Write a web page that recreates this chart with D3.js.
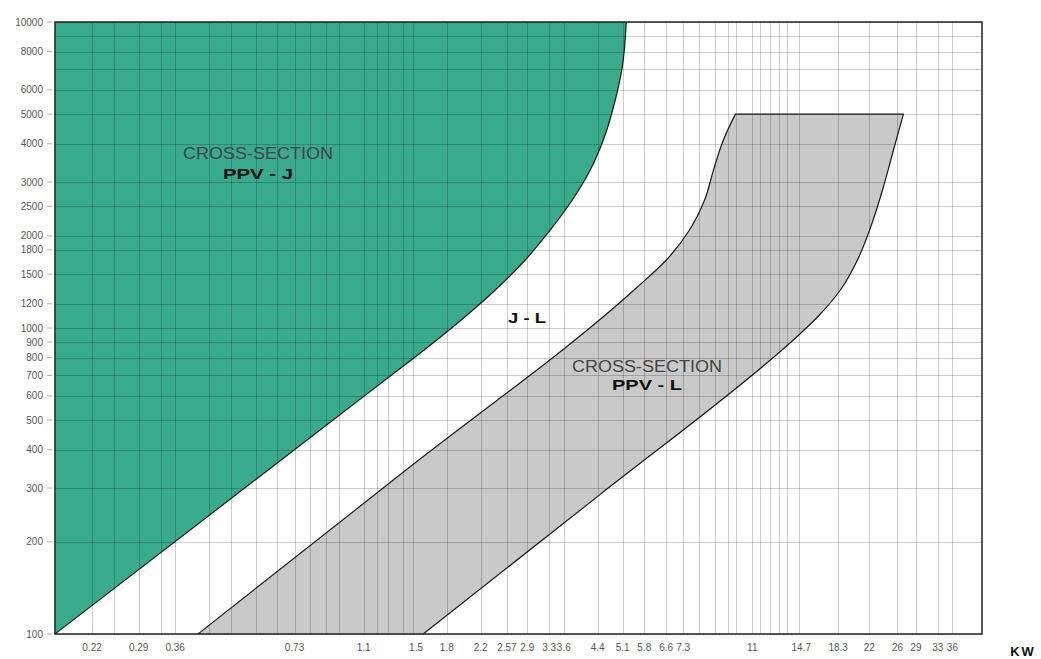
<!DOCTYPE html>
<html>
<head>
<meta charset="utf-8">
<script src="https://cdn.jsdelivr.net/npm/d3@7"></script>
<style>
  body { margin: 0; background: #fff; }
  svg { display: block; font-family: "Liberation Sans", Arial, sans-serif; }
</style>
</head>
<body>
<svg id="chart" width="1041" height="659"></svg>
<script>
// axis domain (kW on x, log scale on y)
const xDomain = [0.1766, 42.9];
const yDomain = [100, 10000];

// tick labels
const xTickLabels = [0.22, 0.29, 0.36, 0.73, 1.1, 1.5, 1.8, 2.2, 2.57, 2.9, 3.3, 3.6, 4.4, 5.1, 5.8, 6.6, 7.3, 11, 14.7, 18.3, 22, 26, 29, 33, 36];
const yTickLabels = [100, 200, 300, 400, 500, 600, 700, 800, 900, 1000, 1200, 1500, 1800, 2000, 2500, 3000, 4000, 5000, 6000, 8000, 10000];

// grid lines
const xGrid = [0.22, 0.25, 0.29, 0.33, 0.36, 0.44, 0.5, 0.58, 0.66, 0.73, 0.8, 0.88, 0.95, 1.1, 1.19, 1.27, 1.39, 1.47, 1.8, 2.2, 2.57, 2.9, 3.3, 3.6, 4.4, 5.1, 5.8, 6.6, 7.3, 8, 8.8, 9.5, 10, 11, 11.5, 12.2, 12.9, 13.5, 14.5, 18.3, 22, 26, 29, 33, 36];
const yGrid = [100, 200, 300, 400, 500, 600, 700, 800, 900, 1000, 1200, 1500, 1800, 2000, 2500, 3000, 4000, 5000, 6000, 7000, 8000, 9000, 10000];

// boundary of the PPV-J region [kW, value], bottom -> top
const ppvJ = [[0.1766, 100], [0.4696, 260], [0.9016, 492], [1.249, 676], [1.574, 847], [1.960, 1062], [2.399, 1331], [2.865, 1668], [3.323, 2091], [3.785, 2620], [4.211, 3283], [4.549, 4115], [4.884, 5560], [5.091, 7127], [5.212, 10000]];

// PPV-L band: left edge (bottom -> top) and right edge (top -> bottom)
const ppvLLeft = [[0.412, 100], [1.366, 332], [5.567, 1361], [6.61, 1668], [7.58, 2091], [8.29, 2620], [8.75, 3300], [9.267, 4115], [9.95, 5000]];
const ppvLRight = [[26.93, 5000], [25.39, 3816], [23.92, 2890], [22.28, 2171], [20.51, 1668], [18.54, 1331], [16.37, 1103], [14.03, 914], [12.24, 786], [4.469, 286], [1.565, 100]];

const svg = d3.select('#chart');
const margin = { top: 22, right: 59, bottom: 25, left: 55 };
const width = +svg.attr('width');
const height = +svg.attr('height');
const innerWidth = width - margin.left - margin.right;
const innerHeight = height - margin.top - margin.bottom;

const xScale = d3.scaleLog().domain(xDomain).range([0, innerWidth]);
const yScale = d3.scaleLog().domain(yDomain).range([innerHeight, 0]);

const g = svg.append('g')
  .attr('transform', `translate(${margin.left},${margin.top})`);

const line = d3.line()
  .x(d => xScale(d[0]))
  .y(d => yScale(d[1]))
  .curve(d3.curveMonotoneY);

// PPV-J filled region (closed along top-left corner)
const jCurve = line(ppvJ);
g.append('path')
  .attr('d', jCurve + `L${xScale(xDomain[0])},${yScale(yDomain[1])}Z`)
  .attr('fill', '#3aaa8c');

// PPV-L band
const lOutline = line(ppvLLeft) + line(ppvLRight).replace(/^M/, 'L');
g.append('path')
  .attr('d', lOutline + 'Z')
  .attr('fill', '#c9c9c9');

// grid on top of fills so it darkens inside them
const gridG = g.append('g')
  .attr('stroke', '#000')
  .attr('stroke-opacity', 0.2)
  .attr('stroke-width', 1);

gridG.selectAll('.vgrid').data(xGrid).join('line')
  .attr('class', 'vgrid')
  .attr('x1', d => Math.round(xScale(d)) + 0.5)
  .attr('x2', d => Math.round(xScale(d)) + 0.5)
  .attr('y1', 0)
  .attr('y2', innerHeight);

gridG.selectAll('.hgrid').data(yGrid).join('line')
  .attr('class', 'hgrid')
  .attr('x1', 0)
  .attr('x2', innerWidth)
  .attr('y1', d => Math.round(yScale(d)) + 0.5)
  .attr('y2', d => Math.round(yScale(d)) + 0.5);

// outlines
g.append('path')
  .attr('d', jCurve)
  .attr('fill', 'none')
  .attr('stroke', '#1a1a1a')
  .attr('stroke-width', 1.2);

g.append('path')
  .attr('d', lOutline)
  .attr('fill', 'none')
  .attr('stroke', '#1a1a1a')
  .attr('stroke-width', 1.2);

// frame
g.append('rect')
  .attr('width', innerWidth)
  .attr('height', innerHeight)
  .attr('fill', 'none')
  .attr('stroke', '#222')
  .attr('stroke-width', 1.5);

// y axis labels + small tick dashes
const yAxisG = g.append('g');
yAxisG.selectAll('text').data(yTickLabels).join('text')
  .attr('x', -12)
  .attr('y', d => yScale(d))
  .attr('dy', '0.35em')
  .attr('text-anchor', 'end')
  .attr('font-size', 10)
  .attr('fill', '#555')
  .text(d => d);
yAxisG.selectAll('line').data(yTickLabels).join('line')
  .attr('x1', -8)
  .attr('x2', -3)
  .attr('y1', d => yScale(d))
  .attr('y2', d => yScale(d))
  .attr('stroke', '#aaa');

// x axis labels
g.append('g').selectAll('text').data(xTickLabels).join('text')
  .attr('x', d => xScale(d))
  .attr('y', innerHeight + 17)
  .attr('text-anchor', 'middle')
  .attr('font-size', 10)
  .attr('fill', '#555')
  .text(d => d);

svg.append('text')
  .attr('x', 1023)
  .attr('y', 656)
  .attr('text-anchor', 'middle')
  .attr('font-size', 13)
  .attr('font-weight', 'bold')
  .attr('letter-spacing', 2)
  .attr('fill', '#111')
  .text('KW');

// region labels
const label = (x, y, txt, w, bold) => svg.append('text')
  .attr('x', x)
  .attr('y', y)
  .attr('font-size', bold ? 15 : 16)
  .attr('font-weight', bold ? 'bold' : 'normal')
  .attr('fill', bold ? '#111' : '#444')
  .attr('textLength', w)
  .attr('lengthAdjust', 'spacingAndGlyphs')
  .text(txt);

label(183, 159, 'CROSS-SECTION', 150, false);
label(223, 179, 'PPV - J', 70, true);
label(508, 323, 'J - L', 38, true);
label(572, 372, 'CROSS-SECTION', 150, false);
label(612, 390, 'PPV - L', 70, true);
</script>
</body>
</html>
